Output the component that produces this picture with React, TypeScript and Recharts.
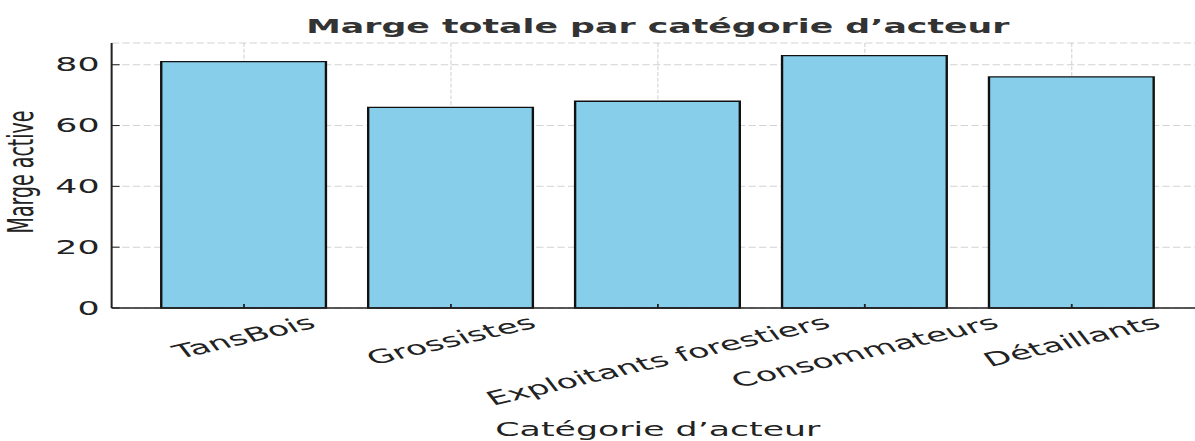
import React from "react";
import { BarChart, Bar, XAxis, YAxis, CartesianGrid } from "recharts";

// données
const categories = ["TansBois", "Grossistes", "Exploitants forestiers", "Consommateurs", "Détaillants"];
const marges = [81, 66, 68, 83, 76];
const yTicks = [0, 20, 40, 60, 80];

const data = categories.map((name, i) => ({ name, marge: marges[i] }));

// the reference is stretched horizontally, so the chart is drawn narrow and scaled
const STRETCH = 1.83;
const W = 660;
const H = 441;
const PLOT_BOTTOM = 308;
const ANGLE = 23;
const FONT = "'DejaVu Sans', sans-serif";

let ctx: CanvasRenderingContext2D | null = null;
function textWidth(s: string) {
    if (!ctx) ctx = document.createElement("canvas").getContext("2d");
    if (!ctx) return s.length * 11;
    ctx.font = `19px ${FONT}`;
    return ctx.measureText(s).width;
}

const XTick = ({ x, payload }: any) => {
    const w = textWidth(payload.value);
    const rad = (ANGLE * Math.PI) / 180;
    const boxH = w * Math.sin(rad) + 22 * Math.cos(rad);
    const cy = PLOT_BOTTOM + 3 + boxH / 2;
    return (
        <text
            x={x}
            y={cy}
            textAnchor="middle"
            dominantBaseline="central"
            fontSize={19}
            fill="#222"
            transform={`rotate(-${ANGLE}, ${x}, ${cy})`}
        >
            {payload.value}
        </text>
    );
};

export default function App() {
    return (
        <div
            style={{
                position: "absolute",
                left: 0,
                top: 0,
                width: 1195,
                height: H,
                overflow: "hidden",
                background: "#fff",
                fontFamily: FONT,
            }}
        >
            <div style={{ width: W, height: H, transform: `scaleX(${STRETCH})`, transformOrigin: "0 0" }}>
                <BarChart
                    width={W}
                    height={H}
                    data={data}
                    margin={{ top: 43, right: 2, bottom: 0, left: 0 }}
                    barCategoryGap="10%"
                >
                    <text x={359.5} y={33} textAnchor="middle" fontSize={19} fontWeight="bold" fill="#333">
                        Marge totale par catégorie d’acteur
                    </text>
                    <XAxis
                        dataKey="name"
                        height={133}
                        padding={{ left: 15.8, right: 15.8 }}
                        tick={<XTick />}
                        interval={0}
                        tickSize={-4}
                        tickLine={{ stroke: "#222", strokeWidth: 1 }}
                        axisLine={{ stroke: "#222", strokeWidth: 1.3 }}
                        label={{
                            content: () => (
                                <text x={359.5} y={436} textAnchor="middle" fontSize={19} fill="#222">
                                    Catégorie d’acteur
                                </text>
                            ),
                        }}
                    />
                    <YAxis
                        width={61}
                        domain={[0, 87.15]}
                        ticks={yTicks}
                        tickSize={-4.4}
                        tickMargin={11}
                        tick={{ fontSize: 19, fill: "#222" }}
                        tickLine={{ stroke: "#222", strokeWidth: 1 }}
                        axisLine={{ stroke: "#222", strokeWidth: 1.1 }}
                        label={{
                            content: () => (
                                <text
                                    x={18}
                                    y={172}
                                    textAnchor="middle"
                                    fontSize={19}
                                    fill="#222"
                                    transform="rotate(-90, 18, 172)"
                                >
                                    Marge active
                                </text>
                            ),
                        }}
                    />
                    <Bar
                        dataKey="marge"
                        fill="#87CEEB"
                        stroke="#111"
                        strokeWidth={1.3}
                        isAnimationActive={false}
                    />
                    <CartesianGrid
                        vertical={false}
                        stroke="#808080"
                        strokeOpacity={0.35}
                        strokeDasharray="4 1.8"
                    />
                    <CartesianGrid
                        horizontal={false}
                        stroke="#808080"
                        strokeOpacity={0.35}
                        strokeWidth={0.6}
                        strokeDasharray="4 1.8"
                    />
                </BarChart>
            </div>
        </div>
    );
}
